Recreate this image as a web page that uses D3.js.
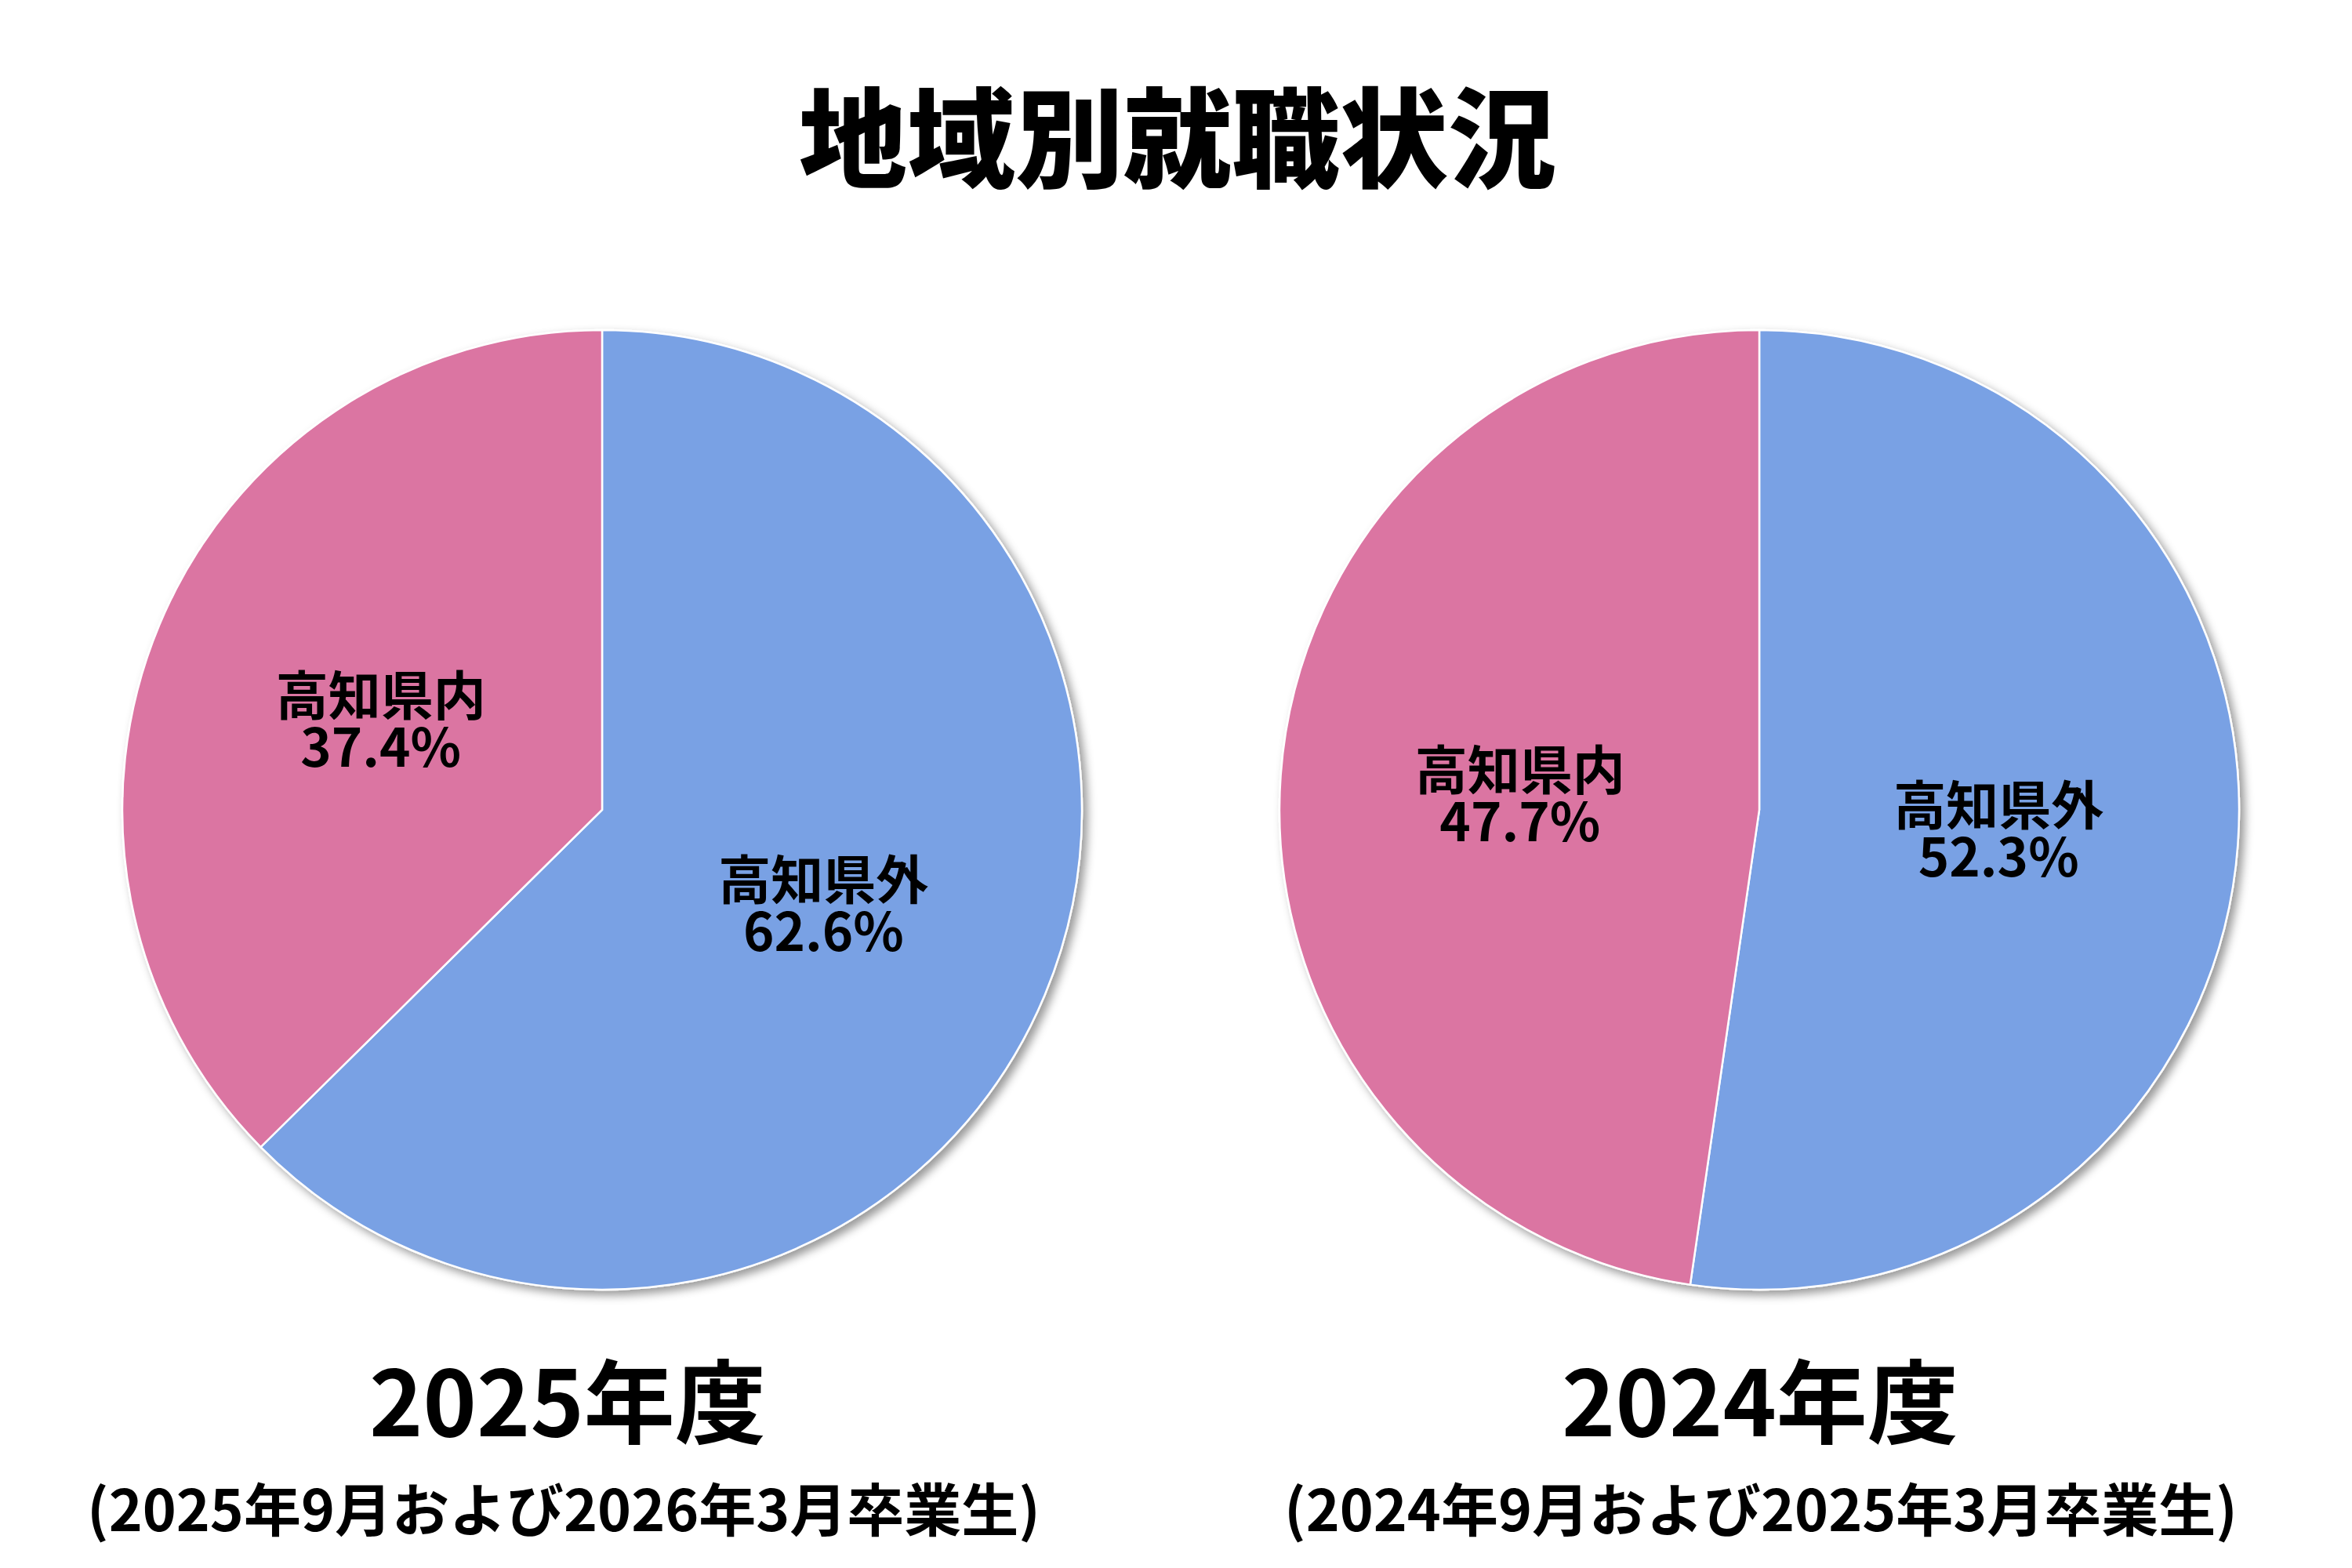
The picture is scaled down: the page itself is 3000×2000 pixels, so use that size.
<!DOCTYPE html>
<html><head><meta charset="utf-8">
<script src="https://cdn.jsdelivr.net/npm/d3@7"></script>
<style>
html,body{margin:0;padding:0;background:#fff;}
text{font-family:"Noto Sans CJK JP","Noto Sans",sans-serif;}
</style></head>
<body>
<script>
const title = "地域別就職状況";
const categories = ["高知県外", "高知県内"];
const colors = ["#79A1E4", "#DB74A2"];
const values2025 = [62.6, 37.4];
const values2024 = [52.3, 47.7];
const yearLabels = ["2025年度", "2024年度"];
const subLabels = ["(2025年9月および2026年3月卒業生)", "(2024年9月および2025年3月卒業生)"];

const W = 3000, H = 2000;
const svg = d3.select("body").append("svg").attr("width", W).attr("height", H);
svg.append("rect").attr("width", W).attr("height", H).attr("fill", "#fff");

const defs = svg.append("defs");
const f = defs.append("filter").attr("id", "shadow").attr("x", "-10%").attr("y", "-10%").attr("width", "130%").attr("height", "130%");
f.append("feDropShadow").attr("dx", 6).attr("dy", 6).attr("stdDeviation", 6)
  .attr("flood-color", "#000").attr("flood-opacity", 0.4);

svg.append("text").attr("x", 1502).attr("y", 168)
  .attr("text-anchor", "middle").attr("dominant-baseline", "central")
  .attr("font-size", 138).attr("font-weight", 900).text(title);

const R = 612;
const charts = [
  {cx: 768, cy: 1033, values: values2025, yx: 724, sx: 719},
  {cx: 2244, cy: 1033, values: values2024, yx: 2245, sx: 2246}
];
const pie = d3.pie().sort(null).value(d => d.v);
const arc = d3.arc().innerRadius(0).outerRadius(R);
const labelArc = d3.arc().innerRadius(R * 0.5).outerRadius(R * 0.5);
const color = d3.scaleOrdinal().domain(categories).range(colors);

charts.forEach((c, i) => {
  const data = categories.map((k, j) => ({k, v: c.values[j]}));
  const arcs = pie(data);
  const g = svg.append("g").attr("transform", `translate(${c.cx},${c.cy})`);
  const sg = g.append("g").attr("filter", "url(#shadow)");
  sg.selectAll("path").data(arcs).join("path")
    .attr("d", arc).attr("fill", d => color(d.data.k))
    .attr("stroke", "#fff").attr("stroke-width", 2.5);
  const t = g.selectAll("text.lbl").data(arcs).join("text").attr("class", "lbl")
    .attr("transform", d => `translate(${labelArc.centroid(d)})`)
    .attr("text-anchor", "middle").attr("font-size", 67).attr("font-weight", 700);
  t.append("tspan").attr("x", 0).attr("y", -33).attr("dominant-baseline", "central").text(d => d.data.k);
  t.append("tspan").attr("x", 0).attr("y", 33).attr("dominant-baseline", "central").text(d => d.data.v.toFixed(1) + "%");

  svg.append("text").attr("x", c.yx).attr("y", 1781)
    .attr("text-anchor", "middle").attr("dominant-baseline", "central")
    .attr("font-size", 116).attr("font-weight", 700).text(yearLabels[i]);
  svg.append("text").attr("x", c.sx).attr("y", 1921)
    .attr("text-anchor", "middle").attr("dominant-baseline", "central")
    .attr("font-size", 73).attr("font-weight", 700).text(subLabels[i]);
});
</script>
</body></html>
